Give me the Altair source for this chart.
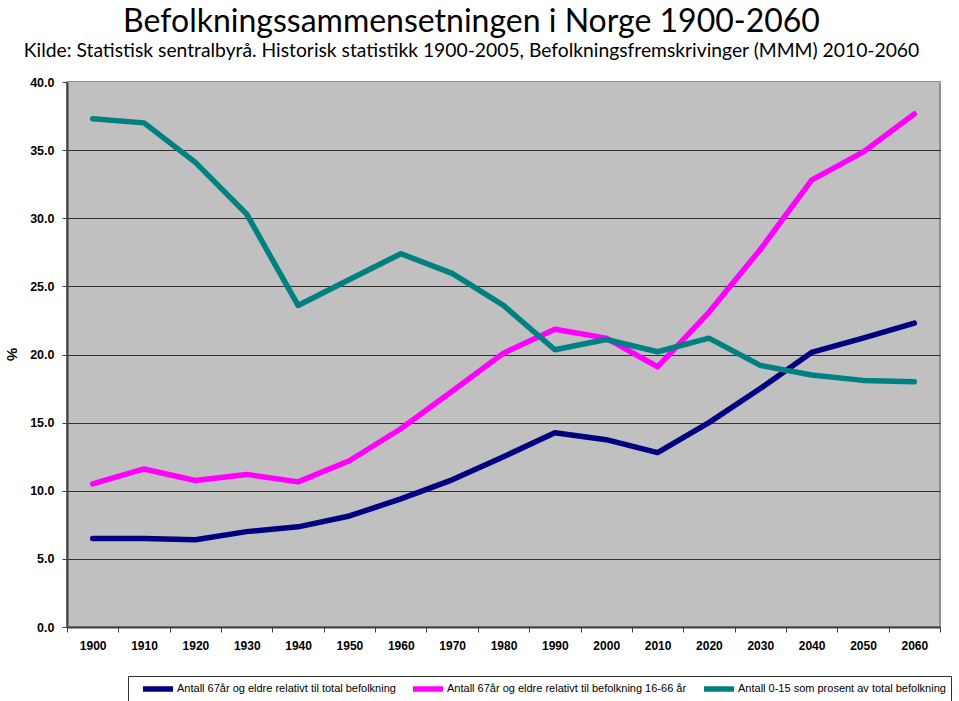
import altair as alt
import pandas as pd

years = ["1900", "1910", "1920", "1930", "1940", "1950", "1960", "1970", "1980",
         "1990", "2000", "2010", "2020", "2030", "2040", "2050", "2060"]

s1_name = "Antall 67år og eldre relativt til total befolkning"
s2_name = "Antall 67år og eldre relativt til befolkning 16-66 år"
s3_name = "Antall 0-15 som prosent av total befolkning"

s1_values = [6.5, 6.5, 6.4, 7.0, 7.35, 8.15, 9.4, 10.8, 12.5, 14.25, 13.75, 12.8,
             15.0, 17.5, 20.15, 21.2, 22.3]
s2_values = [10.5, 11.6, 10.75, 11.2, 10.65, 12.2, 14.55, 17.3, 20.1, 21.85, 21.2, 19.1,
             23.1, 27.7, 32.8, 34.85, 37.65]
s3_values = [37.3, 37.0, 34.1, 30.3, 23.6, 25.5, 27.4, 25.95, 23.6, 20.35, 21.1, 20.2,
             21.2, 19.2, 18.5, 18.1, 18.0]

series_names = [s1_name, s2_name, s3_name]
series_colors = ["#000080", "#FF00FF", "#008080"]
y_ticks = [0, 5, 10, 15, 20, 25, 30, 35, 40]

rows = []
for name, vals in zip(series_names, [s1_values, s2_values, s3_values]):
    for yr, v in zip(years, vals):
        rows.append({"Year": yr, "Value": v, "Serie": name})
df = pd.DataFrame(rows)

base = alt.Chart(df).mark_line(strokeCap="round", strokeJoin="round").encode(
    x=alt.X("Year:N", sort=years, bandPosition=0.5,
            scale=alt.Scale(type="band", paddingInner=0, paddingOuter=0),
            axis=alt.Axis(title=None, labelAngle=0, labelFont="Liberation Sans",
                          labelFontSize=12, labelFontWeight="bold", labelColor="black",
                          labelPadding=8, tickBand="extent", tickSize=5,
                          tickColor="#404040", domainColor="#404040", domainWidth=2,
                          grid=False)),
    y=alt.Y("Value:Q", scale=alt.Scale(domain=[0, 40], nice=False),
            axis=alt.Axis(values=y_ticks, format=".1f", title="%", titleAngle=90,
                          titleFont="Liberation Sans", titleFontSize=15,
                          titleFontWeight="bold", titleX=-64, titleY=272,
                          labelFont="Liberation Sans", labelFontSize=12.5,
                          labelFontWeight="bold", labelColor="black", labelPadding=8,
                          tickSize=5, tickColor="#404040", domainColor="#404040",
                          domainWidth=2, grid=True,
                          gridColor={"condition": {"test": "datum.value == 40",
                                                   "value": "#C0C0C0"},
                                     "value": "#303030"},
                          gridWidth=1.2)),
    color=alt.Color("Serie:N",
                    scale=alt.Scale(domain=series_names, range=series_colors),
                    legend=alt.Legend(title=None, orient="none", legendX=61, legendY=594,
                                      direction="horizontal",
                                      symbolType="M-3,0H3", symbolSize=100,
                                      symbolStrokeWidth=4, symbolOffset=17,
                                      labelOffset=11,
                                      labelFont="Liberation Sans", labelFontSize=11,
                                      labelColor="black", labelLimit=400,
                                      columnPadding=6, padding=5,
                                      strokeColor="#303030", fillColor="white")),
    strokeWidth=alt.StrokeWidth("Serie:N",
                                scale=alt.Scale(domain=series_names, range=[5.5, 5.5, 4]),
                                legend=None),
)

chart = base.properties(
    width=873, height=545,
    padding={"left": 67, "top": 82, "right": 19, "bottom": 74},
    autosize=alt.AutoSizeParams(type="none"),
    title=alt.TitleParams(
        text="Befolkningssammensetningen i Norge 1900-2060",
        subtitle="Kilde: Statistisk sentralbyrå. Historisk statistikk 1900-2005, Befolkningsfremskrivinger (MMM) 2010-2060",
        anchor="middle", dx=-32, font="Lato", fontSize=32, fontWeight="normal",
        color="black", subtitleFont="Lato", subtitleFontSize=19.3, subtitleColor="black",
        subtitlePadding=3, offset=14),
).configure_view(fill="#C0C0C0", stroke="#909090", strokeWidth=2)

chart.save("out.html", embed_options={"renderer": "svg", "actions": False})
